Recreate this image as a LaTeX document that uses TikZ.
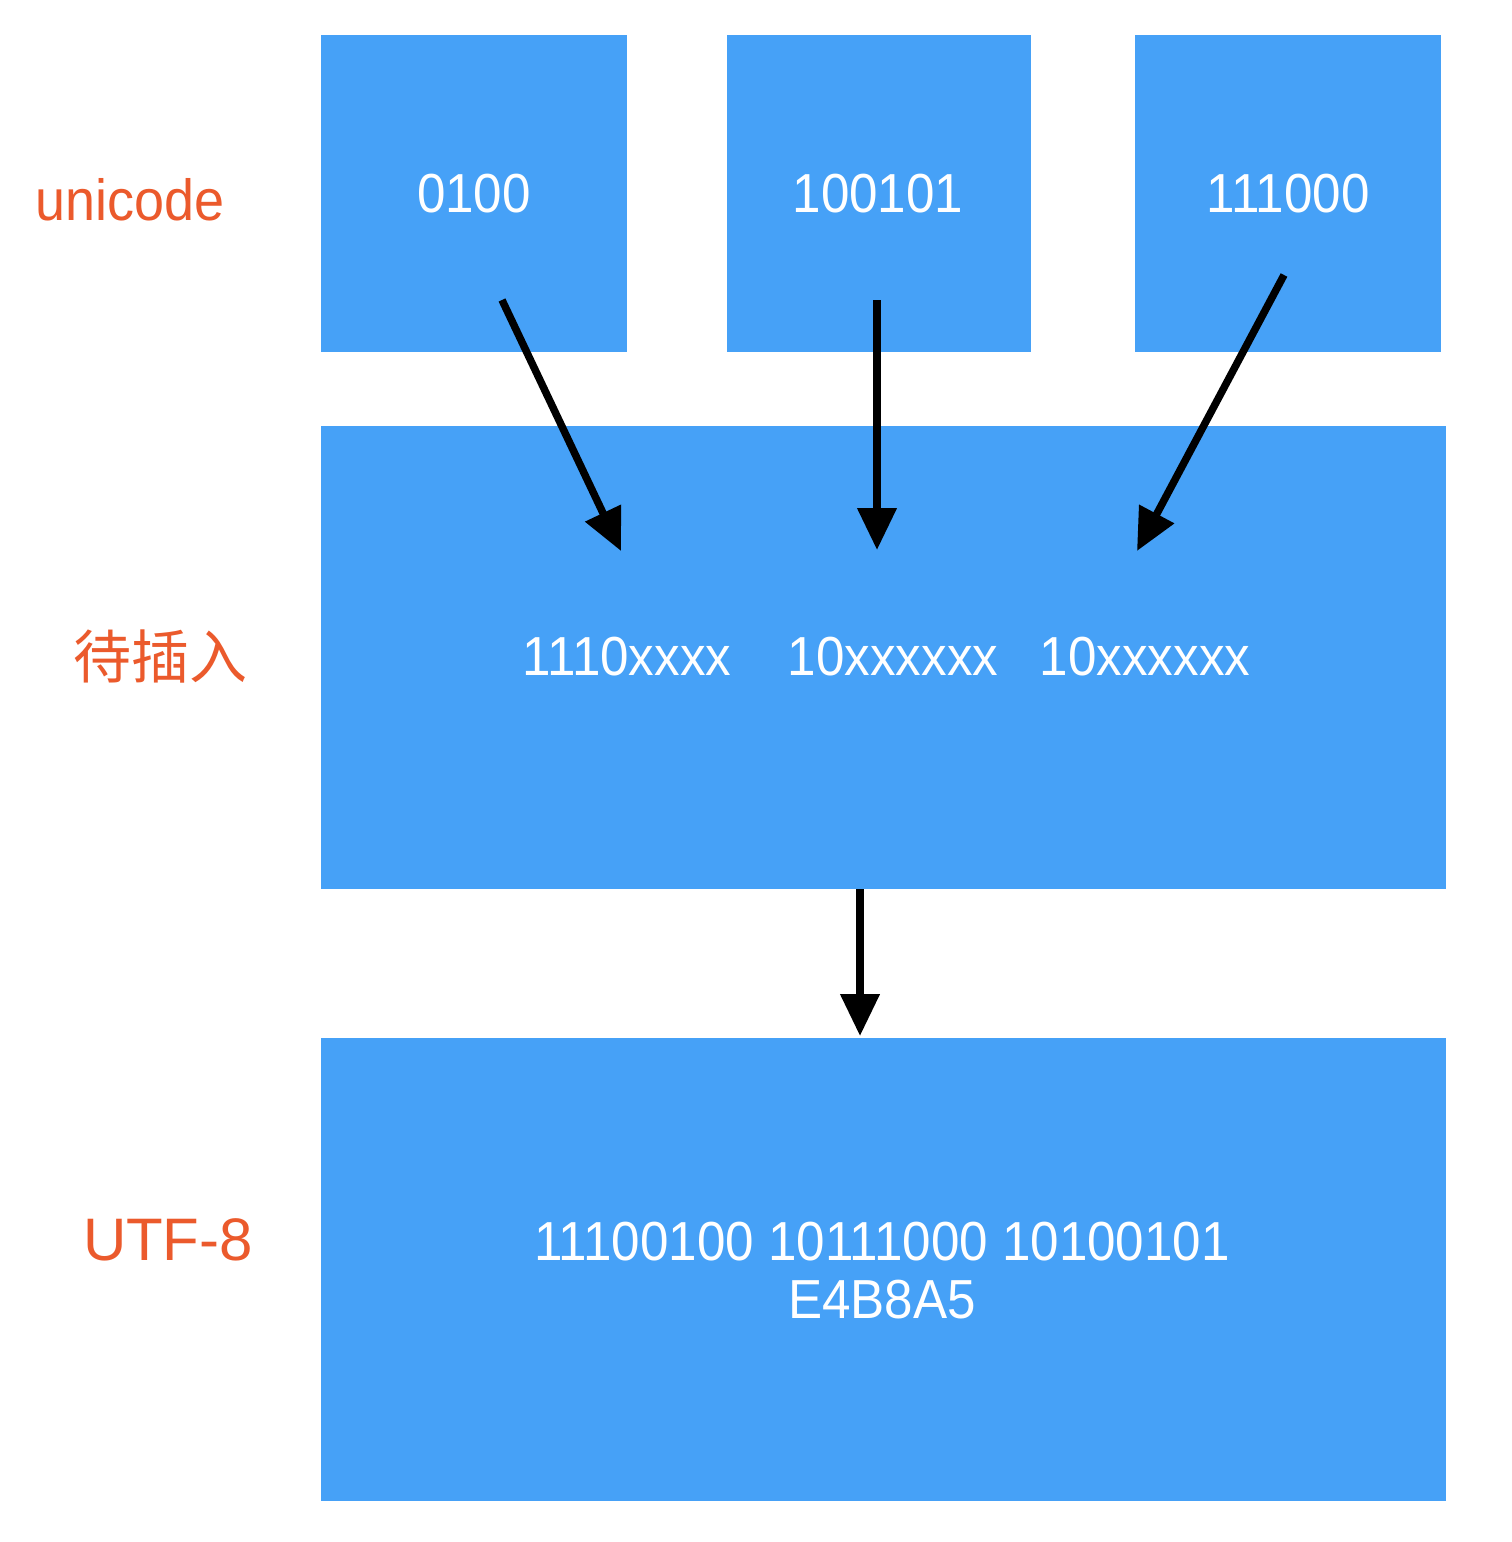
\documentclass[tikz,border=0pt]{standalone}
\usepackage{fontspec}
\setmainfont{Liberation Sans}
\newfontfamily\narr[FakeStretch=0.93]{Liberation Sans}
\newfontfamily\cjk{Noto Sans CJK SC}
\usetikzlibrary{arrows.meta}
\definecolor{boxblue}{HTML}{46A1F7}
\definecolor{labred}{HTML}{EB5A2C}
\begin{document}
\begin{tikzpicture}[x=1pt,y=-1pt,
  blk/.style={fill=boxblue,draw=none},
  wtxt/.style={text=white,font=\narr\fontsize{55}{58}\selectfont,inner sep=0pt,align=center},
  lab/.style={text=labred,font=\narr\fontsize{58}{62}\selectfont,inner sep=0pt},
  arr/.style={line width=7.5pt,-{Triangle[width=38pt,length=42pt]}}]
\useasboundingbox (0,0) rectangle (1512,1542);
\fill[white] (0,0) rectangle (1512,1542);
% boxes
\path[blk] (321,35) rectangle (627,352) node[pos=.5] (b1) {};
\path[blk] (727,35) rectangle (1031,352) node[pos=.5] (b2) {};
\path[blk] (1135,35) rectangle (1441,352) node[pos=.5] (b3) {};
\path[blk] (321,426) rectangle (1446,889) node[pos=.5] (mid) {};
\path[blk] (321,1038) rectangle (1446,1501) node[pos=.5] (bot) {};
% texts
\node[wtxt] (t1) at (474,194) {0100};
\node[wtxt] (t2) at (878,194) {100101};
\node[wtxt] (t3) at (1288,194) {111000};
\node[wtxt] (m1) at (627,657) {1110xxxx};
\node[wtxt] (m2) at (893,657) {10xxxxxx};
\node[wtxt] (m3) at (1145,657) {10xxxxxx};
\node[wtxt] (u) at (882,1271) {11100100 10111000 10100101\\E4B8A5};
\node[lab] (l1) at (130,200) {unicode};
\node[lab,font=\cjk\fontsize{58}{62}\selectfont] (l2) at (160,656) {待插入};
\node[lab,font=\fontsize{60}{64}\selectfont] (l3) at (168,1240) {UTF-8};
% arrow coordinates
\coordinate (a1s) at (502,300);
\coordinate (a1e) at (621,551);
\coordinate (a2s) at (877,300);
\coordinate (a2e) at (877,550);
\coordinate (a3s) at (1284,275);
\coordinate (a3e) at (1137,551);
\coordinate (a4s) at (860,889);
\coordinate (a4e) at (860,1036);
\draw[arr] (a1s) -- (a1e);
\draw[arr] (a2s) -- (a2e);
\draw[arr] (a3s) -- (a3e);
\draw[arr] (a4s) -- (a4e);
\end{tikzpicture}
\end{document}
